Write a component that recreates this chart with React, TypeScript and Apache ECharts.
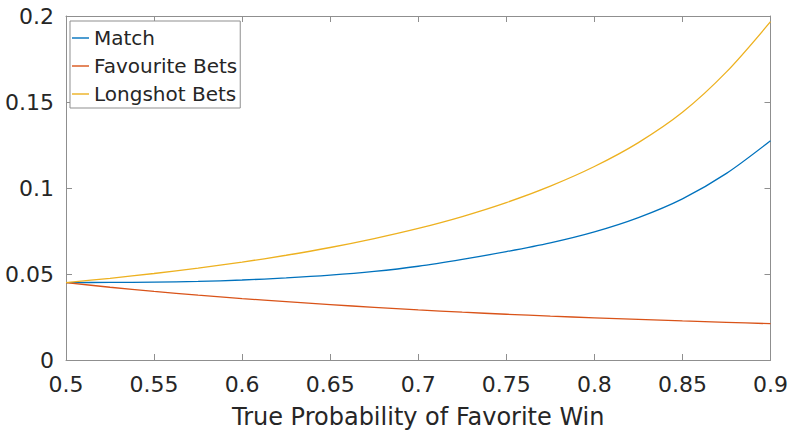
import React, { useEffect, useRef } from "react";
import * as echarts from "echarts";

// True probability of a favourite win (x values)
const probability = [
  0.5, 0.525, 0.55, 0.575, 0.6, 0.625, 0.65, 0.675, 0.7,
  0.725, 0.75, 0.775, 0.8, 0.825, 0.85, 0.875, 0.9,
];

const matchValues = [
  0.045, 0.0451, 0.0453, 0.0457, 0.0465, 0.0477, 0.0493, 0.0515, 0.0545,
  0.0585, 0.063, 0.0681, 0.0745, 0.0828, 0.0937, 0.1085, 0.1275,
];

const favouriteValues = [
  0.045, 0.0423, 0.0399, 0.0377, 0.0357, 0.0339, 0.0322, 0.0306, 0.0291,
  0.0278, 0.0266, 0.0255, 0.0245, 0.0236, 0.0227, 0.0219, 0.0211,
];

const longshotValues = [
  0.045, 0.0475, 0.0503, 0.0534, 0.0569, 0.0609, 0.0654, 0.0706, 0.0765,
  0.0834, 0.0915, 0.1011, 0.1125, 0.1264, 0.144, 0.1675, 0.1967,
];

const seriesNames = ["Match", "Favourite Bets", "Longshot Bets"];
const seriesColors = ["#0072BD", "#D95319", "#EDB120"];

const xTitle = "True Probability of Favorite Win";

const FONT = "'DejaVu Sans', 'Liberation Sans', Arial, sans-serif";
const AXIS_COLOR = "#8f8f8f";
const TEXT_COLOR = "#262626";

export default function App() {
  const ref = useRef<HTMLDivElement>(null);

  useEffect(() => {
    if (!ref.current) return;
    const chart = echarts.init(ref.current, undefined, { renderer: "svg" });

    const pair = (vals: number[]) => probability.map((p, i) => [p, vals[i]]);
    const allValues = [matchValues, favouriteValues, longshotValues];

    const xBase = {
      type: "value" as const,
      min: 0.5,
      max: 0.9,
      interval: 0.05,
      axisLine: { show: true, onZero: false, lineStyle: { color: AXIS_COLOR, width: 1 } },
      axisTick: { show: true, inside: true, length: 6, lineStyle: { color: AXIS_COLOR } },
      splitLine: { show: false },
    };
    const yBase = {
      type: "value" as const,
      min: 0,
      max: 0.2,
      interval: 0.05,
      axisLine: { show: true, onZero: false, lineStyle: { color: AXIS_COLOR, width: 1 } },
      axisTick: { show: true, inside: true, length: 6, lineStyle: { color: AXIS_COLOR } },
      splitLine: { show: false },
    };

    chart.setOption({
      animation: false,
      backgroundColor: "#ffffff",
      textStyle: { fontFamily: FONT },
      grid: { left: 66, right: 19, top: 16, bottom: 72, containLabel: false },
      xAxis: [
        {
          ...xBase,
          position: "bottom",
          name: xTitle,
          nameLocation: "middle",
          nameGap: 45,
          nameTextStyle: { fontSize: 24, color: TEXT_COLOR, fontFamily: FONT },
          axisLabel: { fontSize: 22, color: TEXT_COLOR, margin: 13, fontFamily: FONT },
        },
        { ...xBase, position: "top", axisLabel: { show: false } },
      ],
      yAxis: [
        {
          ...yBase,
          position: "left",
          axisLabel: { fontSize: 22, color: TEXT_COLOR, margin: 12, fontFamily: FONT },
        },
        { ...yBase, position: "right", axisLabel: { show: false } },
      ],
      legend: {
        orient: "vertical",
        left: 70,
        top: 21,
        padding: [3, 3, 0, 2],
        itemGap: 0,
        itemWidth: 17,
        itemHeight: 1.4,
        icon: "rect",
        backgroundColor: "#ffffff",
        borderColor: AXIS_COLOR,
        borderWidth: 1,
        borderRadius: 0,
        textStyle: { fontSize: 20, lineHeight: 28, color: TEXT_COLOR, fontFamily: FONT },
        data: seriesNames,
      },
      series: seriesNames.map((name, i) => ({
        name,
        type: "line",
        xAxisIndex: 0,
        yAxisIndex: 0,
        data: pair(allValues[i]),
        smooth: 0.3,
        symbol: "none",
        color: seriesColors[i],
        lineStyle: { color: seriesColors[i], width: 1.3 },
      })),
    });

    return () => chart.dispose();
  }, []);

  return (
    <div
      ref={ref}
      style={{ position: "fixed", left: 0, top: 0, width: 791, height: 434, background: "#fff" }}
    />
  );
}
